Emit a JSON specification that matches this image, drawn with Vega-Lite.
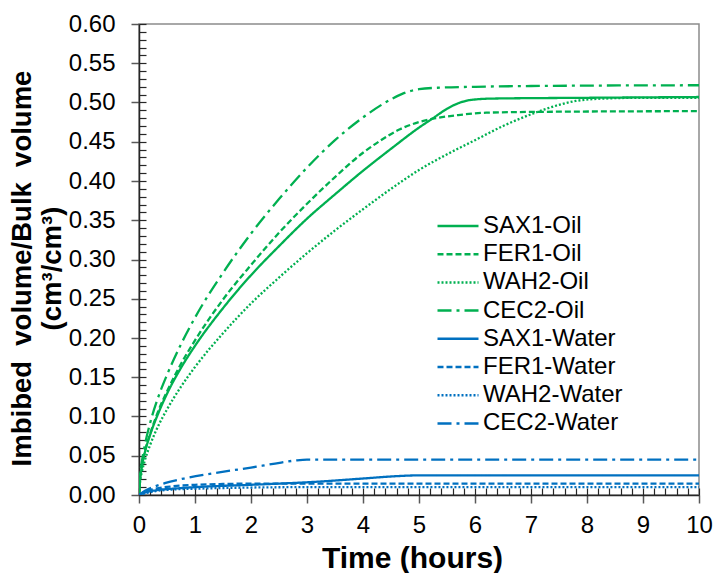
{
  "$schema": "https://vega.github.io/schema/vega-lite/v6.json",
  "width": 560,
  "height": 471,
  "autosize": {"type": "none"},
  "padding": {"left": 139, "top": 24, "right": 16, "bottom": 78},
  "background": "white",
  "config": {
    "view": {"stroke": "#8c8c8c", "strokeWidth": 1.5},
    "font": "Liberation Sans",
    "axis": {"labelFont": "Liberation Sans", "titleFont": "Liberation Sans", "grid": false}
  },
  "data": {"values": [
    {"t": 0, "v": 0, "s": "SAX1-Oil"},
    {"t": 0.02, "v": 0.021, "s": "SAX1-Oil"},
    {"t": 0.05, "v": 0.036, "s": "SAX1-Oil"},
    {"t": 0.1, "v": 0.053, "s": "SAX1-Oil"},
    {"t": 0.2, "v": 0.077, "s": "SAX1-Oil"},
    {"t": 0.35, "v": 0.105, "s": "SAX1-Oil"},
    {"t": 0.5, "v": 0.129, "s": "SAX1-Oil"},
    {"t": 0.75, "v": 0.162, "s": "SAX1-Oil"},
    {"t": 1.0, "v": 0.190, "s": "SAX1-Oil"},
    {"t": 1.5, "v": 0.238, "s": "SAX1-Oil"},
    {"t": 2.0, "v": 0.280, "s": "SAX1-Oil"},
    {"t": 2.5, "v": 0.317, "s": "SAX1-Oil"},
    {"t": 3.0, "v": 0.352, "s": "SAX1-Oil"},
    {"t": 3.5, "v": 0.383, "s": "SAX1-Oil"},
    {"t": 4.0, "v": 0.413, "s": "SAX1-Oil"},
    {"t": 4.5, "v": 0.441, "s": "SAX1-Oil"},
    {"t": 5.0, "v": 0.468, "s": "SAX1-Oil"},
    {"t": 5.25, "v": 0.480, "s": "SAX1-Oil"},
    {"t": 5.5, "v": 0.492, "s": "SAX1-Oil"},
    {"t": 5.7, "v": 0.499, "s": "SAX1-Oil"},
    {"t": 5.9, "v": 0.503, "s": "SAX1-Oil"},
    {"t": 6.3, "v": 0.505, "s": "SAX1-Oil"},
    {"t": 8, "v": 0.506, "s": "SAX1-Oil"},
    {"t": 10, "v": 0.507, "s": "SAX1-Oil"},

    {"t": 0, "v": 0, "s": "FER1-Oil"},
    {"t": 0.02, "v": 0.022, "s": "FER1-Oil"},
    {"t": 0.05, "v": 0.036, "s": "FER1-Oil"},
    {"t": 0.1, "v": 0.054, "s": "FER1-Oil"},
    {"t": 0.2, "v": 0.078, "s": "FER1-Oil"},
    {"t": 0.35, "v": 0.108, "s": "FER1-Oil"},
    {"t": 0.5, "v": 0.132, "s": "FER1-Oil"},
    {"t": 0.75, "v": 0.167, "s": "FER1-Oil"},
    {"t": 1.0, "v": 0.197, "s": "FER1-Oil"},
    {"t": 1.5, "v": 0.249, "s": "FER1-Oil"},
    {"t": 2.0, "v": 0.293, "s": "FER1-Oil"},
    {"t": 2.5, "v": 0.334, "s": "FER1-Oil"},
    {"t": 3.0, "v": 0.371, "s": "FER1-Oil"},
    {"t": 3.5, "v": 0.405, "s": "FER1-Oil"},
    {"t": 4.0, "v": 0.436, "s": "FER1-Oil"},
    {"t": 4.3, "v": 0.451, "s": "FER1-Oil"},
    {"t": 4.66, "v": 0.466, "s": "FER1-Oil"},
    {"t": 5.0, "v": 0.475, "s": "FER1-Oil"},
    {"t": 5.3, "v": 0.480, "s": "FER1-Oil"},
    {"t": 5.7, "v": 0.484, "s": "FER1-Oil"},
    {"t": 6.2, "v": 0.487, "s": "FER1-Oil"},
    {"t": 7, "v": 0.488, "s": "FER1-Oil"},
    {"t": 10, "v": 0.489, "s": "FER1-Oil"},

    {"t": 0, "v": 0, "s": "WAH2-Oil"},
    {"t": 0.02, "v": 0.017, "s": "WAH2-Oil"},
    {"t": 0.05, "v": 0.029, "s": "WAH2-Oil"},
    {"t": 0.1, "v": 0.043, "s": "WAH2-Oil"},
    {"t": 0.2, "v": 0.064, "s": "WAH2-Oil"},
    {"t": 0.35, "v": 0.089, "s": "WAH2-Oil"},
    {"t": 0.5, "v": 0.109, "s": "WAH2-Oil"},
    {"t": 0.75, "v": 0.138, "s": "WAH2-Oil"},
    {"t": 1.0, "v": 0.163, "s": "WAH2-Oil"},
    {"t": 1.5, "v": 0.206, "s": "WAH2-Oil"},
    {"t": 2.0, "v": 0.244, "s": "WAH2-Oil"},
    {"t": 2.5, "v": 0.277, "s": "WAH2-Oil"},
    {"t": 3.0, "v": 0.308, "s": "WAH2-Oil"},
    {"t": 3.5, "v": 0.337, "s": "WAH2-Oil"},
    {"t": 4.0, "v": 0.364, "s": "WAH2-Oil"},
    {"t": 4.5, "v": 0.390, "s": "WAH2-Oil"},
    {"t": 5.0, "v": 0.414, "s": "WAH2-Oil"},
    {"t": 5.5, "v": 0.434, "s": "WAH2-Oil"},
    {"t": 6.0, "v": 0.452, "s": "WAH2-Oil"},
    {"t": 6.5, "v": 0.470, "s": "WAH2-Oil"},
    {"t": 7.04, "v": 0.486, "s": "WAH2-Oil"},
    {"t": 7.5, "v": 0.497, "s": "WAH2-Oil"},
    {"t": 7.8, "v": 0.502, "s": "WAH2-Oil"},
    {"t": 8.3, "v": 0.505, "s": "WAH2-Oil"},
    {"t": 9, "v": 0.506, "s": "WAH2-Oil"},
    {"t": 10, "v": 0.506, "s": "WAH2-Oil"},

    {"t": 0, "v": 0, "s": "CEC2-Oil"},
    {"t": 0.02, "v": 0.025, "s": "CEC2-Oil"},
    {"t": 0.05, "v": 0.042, "s": "CEC2-Oil"},
    {"t": 0.1, "v": 0.062, "s": "CEC2-Oil"},
    {"t": 0.2, "v": 0.092, "s": "CEC2-Oil"},
    {"t": 0.35, "v": 0.126, "s": "CEC2-Oil"},
    {"t": 0.5, "v": 0.153, "s": "CEC2-Oil"},
    {"t": 0.75, "v": 0.192, "s": "CEC2-Oil"},
    {"t": 1.0, "v": 0.226, "s": "CEC2-Oil"},
    {"t": 1.5, "v": 0.283, "s": "CEC2-Oil"},
    {"t": 2.0, "v": 0.333, "s": "CEC2-Oil"},
    {"t": 2.5, "v": 0.377, "s": "CEC2-Oil"},
    {"t": 3.0, "v": 0.417, "s": "CEC2-Oil"},
    {"t": 3.5, "v": 0.452, "s": "CEC2-Oil"},
    {"t": 4.0, "v": 0.481, "s": "CEC2-Oil"},
    {"t": 4.4, "v": 0.500, "s": "CEC2-Oil"},
    {"t": 4.7, "v": 0.511, "s": "CEC2-Oil"},
    {"t": 5.0, "v": 0.517, "s": "CEC2-Oil"},
    {"t": 5.4, "v": 0.519, "s": "CEC2-Oil"},
    {"t": 6, "v": 0.520, "s": "CEC2-Oil"},
    {"t": 7, "v": 0.521, "s": "CEC2-Oil"},
    {"t": 10, "v": 0.522, "s": "CEC2-Oil"},

    {"t": 0, "v": 0, "s": "SAX1-Water"},
    {"t": 0.1, "v": 0.003, "s": "SAX1-Water"},
    {"t": 0.3, "v": 0.006, "s": "SAX1-Water"},
    {"t": 0.6, "v": 0.008, "s": "SAX1-Water"},
    {"t": 1.0, "v": 0.010, "s": "SAX1-Water"},
    {"t": 2.0, "v": 0.013, "s": "SAX1-Water"},
    {"t": 3.2, "v": 0.017, "s": "SAX1-Water"},
    {"t": 4.0, "v": 0.021, "s": "SAX1-Water"},
    {"t": 4.6, "v": 0.024, "s": "SAX1-Water"},
    {"t": 5.0, "v": 0.025, "s": "SAX1-Water"},
    {"t": 10, "v": 0.025, "s": "SAX1-Water"},

    {"t": 0, "v": 0, "s": "FER1-Water"},
    {"t": 0.1, "v": 0.004, "s": "FER1-Water"},
    {"t": 0.3, "v": 0.008, "s": "FER1-Water"},
    {"t": 0.6, "v": 0.011, "s": "FER1-Water"},
    {"t": 1.0, "v": 0.013, "s": "FER1-Water"},
    {"t": 1.5, "v": 0.014, "s": "FER1-Water"},
    {"t": 2.0, "v": 0.0145, "s": "FER1-Water"},
    {"t": 10, "v": 0.0145, "s": "FER1-Water"},

    {"t": 0, "v": 0, "s": "WAH2-Water"},
    {"t": 0.1, "v": 0.002, "s": "WAH2-Water"},
    {"t": 0.3, "v": 0.005, "s": "WAH2-Water"},
    {"t": 0.6, "v": 0.007, "s": "WAH2-Water"},
    {"t": 1.0, "v": 0.008, "s": "WAH2-Water"},
    {"t": 2.0, "v": 0.0095, "s": "WAH2-Water"},
    {"t": 3.0, "v": 0.010, "s": "WAH2-Water"},
    {"t": 10, "v": 0.010, "s": "WAH2-Water"},

    {"t": 0, "v": 0, "s": "CEC2-Water"},
    {"t": 0.1, "v": 0.005, "s": "CEC2-Water"},
    {"t": 0.25, "v": 0.010, "s": "CEC2-Water"},
    {"t": 0.46, "v": 0.015, "s": "CEC2-Water"},
    {"t": 0.8, "v": 0.021, "s": "CEC2-Water"},
    {"t": 1.36, "v": 0.028, "s": "CEC2-Water"},
    {"t": 2.0, "v": 0.035, "s": "CEC2-Water"},
    {"t": 2.43, "v": 0.040, "s": "CEC2-Water"},
    {"t": 2.8, "v": 0.044, "s": "CEC2-Water"},
    {"t": 3.0, "v": 0.045, "s": "CEC2-Water"},
    {"t": 10, "v": 0.045, "s": "CEC2-Water"}
  ]},
  "layer": [
    {
      "mark": {"type": "line", "interpolate": "monotone", "strokeWidth": 2.3, "clip": true},
      "encoding": {
        "x": {"field": "t", "type": "quantitative",
          "scale": {"domain": [0, 10], "nice": false, "zero": false},
          "axis": {"title": "Time (hours)", "values": [0,1,2,3,4,5,6,7,8,9,10], "format": "d",
            "labelFlush": false, "labelOverlap": false,
            "labelFontSize": 24, "labelColor": "#000", "labelPadding": 10,
            "titleFontSize": 30, "titleFontWeight": "bold", "titleColor": "#000", "titlePadding": 6, "titleX": 273,
            "domainColor": "#262626", "domainWidth": 1.5, "tickColor": "#595959", "tickSize": 8, "tickWidth": 1.5}},
        "y": {"field": "v", "type": "quantitative",
          "scale": {"domain": [0, 0.6], "nice": false, "zero": false},
          "axis": {"title": ["Imbibed\u00a0 volume/Bulk\u00a0 volume", "(cm³/cm³)"],
            "values": [0,0.05,0.1,0.15,0.2,0.25,0.3,0.35,0.4,0.45,0.5,0.55,0.6], "format": ".2f",
            "labelFlush": false, "labelOverlap": false,
            "labelFontSize": 24, "labelColor": "#000", "labelPadding": 16,
            "titleFontSize": 27.5, "titleFontWeight": "bold", "titleColor": "#000", "titlePadding": 2, "titleLineHeight": 30, "titleY": 244,
            "domainColor": "#262626", "domainWidth": 1.5, "tickColor": "#595959", "tickSize": 8, "tickWidth": 1.5}},
        "color": {"field": "s", "type": "nominal",
          "scale": {"domain": ["SAX1-Oil","FER1-Oil","WAH2-Oil","CEC2-Oil","SAX1-Water","FER1-Water","WAH2-Water","CEC2-Water"],
            "range": ["#00b050","#00b050","#00b050","#00b050","#0070c0","#0070c0","#0070c0","#0070c0"]},
          "legend": {"title": null, "orient": "none", "legendX": 297, "legendY": 188,
            "symbolType": "stroke", "symbolSize": 1681, "symbolStrokeWidth": 2.5, "clipHeight": 28,
            "labelFontSize": 24, "labelColor": "#000", "labelOffset": 3, "rowPadding": 0.2, "padding": 0}},
        "strokeDash": {"field": "s", "type": "nominal",
          "scale": {"domain": ["SAX1-Oil","FER1-Oil","WAH2-Oil","CEC2-Oil","SAX1-Water","FER1-Water","WAH2-Water","CEC2-Water"],
            "range": [[1,0],[6,3],[2,2],[14,5,3,5],[1,0],[6,3],[2,2],[14,5,3,5]]},
          "legend": {"title": null, "orient": "none", "legendX": 297, "legendY": 188,
            "symbolType": "stroke", "symbolSize": 1681, "symbolStrokeWidth": 2.5, "clipHeight": 28,
            "labelFontSize": 24, "labelColor": "#000", "labelOffset": 3, "rowPadding": 0.2, "padding": 0}}
      }
    },
    {
      "mark": {"type": "point", "opacity": 0, "size": 1},
      "encoding": {
        "x": {"field": "t", "type": "quantitative",
          "axis": {"orient": "bottom", "title": null, "labels": false, "domain": false,
            "values": [0,0.2,0.4,0.6,0.8,1,1.2,1.4,1.6,1.8,2,2.2,2.4,2.6,2.8,3,3.2,3.4,3.6,3.8,4,4.2,4.4,4.6,4.8,5,5.2,5.4,5.6,5.8,6,6.2,6.4,6.6,6.8,7,7.2,7.4,7.6,7.8,8,8.2,8.4,8.6,8.8,9,9.2,9.4,9.6,9.8,10],
            "tickSize": -7, "tickColor": "#262626", "tickWidth": 1.2}},
        "y": {"field": "v", "type": "quantitative",
          "axis": {"orient": "left", "title": null, "labels": false, "domain": false,
            "values": [0,0.01,0.02,0.03,0.04,0.05,0.06,0.07,0.08,0.09,0.1,0.11,0.12,0.13,0.14,0.15,0.16,0.17,0.18,0.19,0.2,0.21,0.22,0.23,0.24,0.25,0.26,0.27,0.28,0.29,0.3,0.31,0.32,0.33,0.34,0.35,0.36,0.37,0.38,0.39,0.4,0.41,0.42,0.43,0.44,0.45,0.46,0.47,0.48,0.49,0.5,0.51,0.52,0.53,0.54,0.55,0.56,0.57,0.58,0.59,0.6],
            "tickSize": -7, "tickColor": "#262626", "tickWidth": 1.2}}
      }
    }
  ],
  "resolve": {"axis": {"x": "independent", "y": "independent"}}
}
